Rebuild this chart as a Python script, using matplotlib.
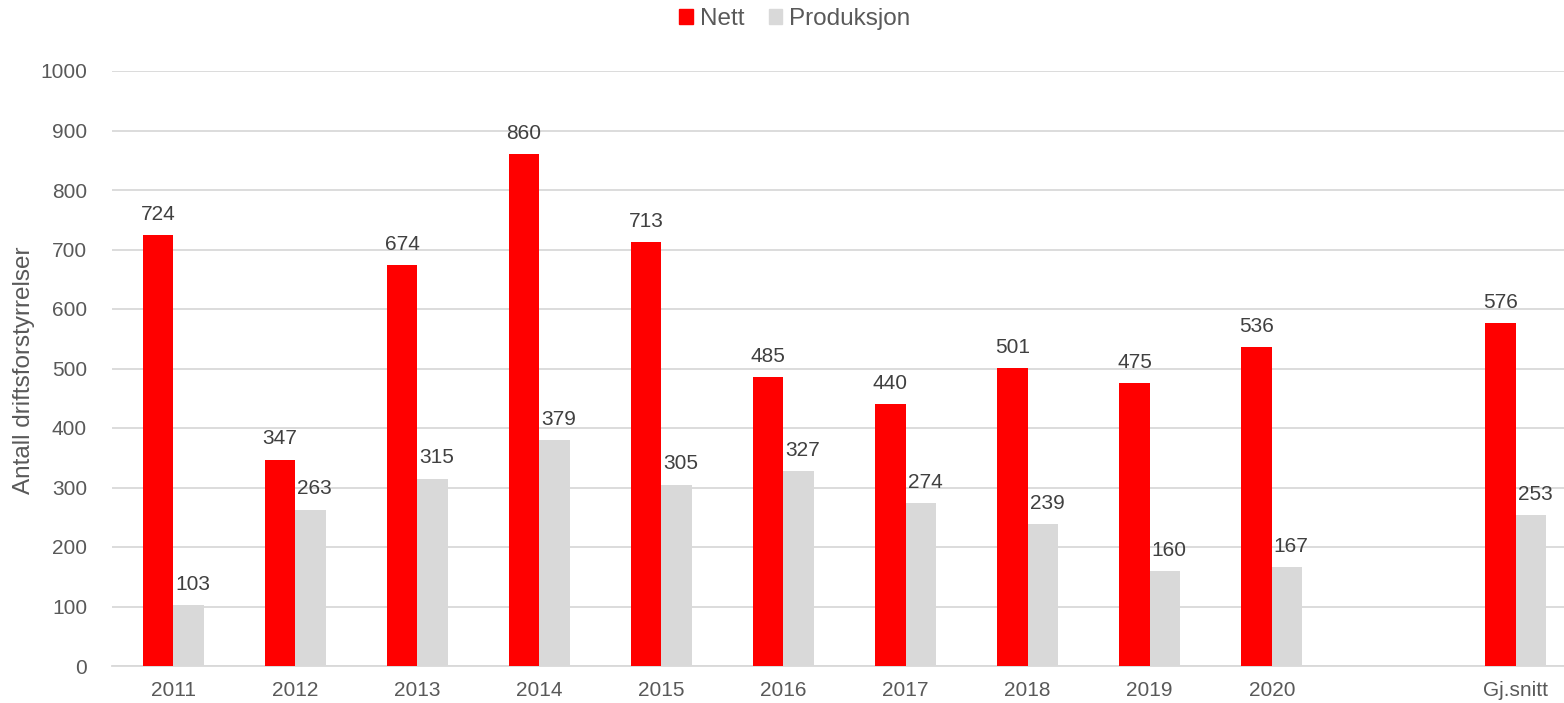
import matplotlib
matplotlib.use("Agg")
import matplotlib.pyplot as plt
import numpy as np
from matplotlib.patches import Patch

categories = ["2011", "2012", "2013", "2014", "2015", "2016", "2017", "2018", "2019", "2020", "", "Gj.snitt"]
nett = [724, 347, 674, 860, 713, 485, 440, 501, 475, 536, None, 576]
produksjon = [103, 263, 315, 379, 305, 327, 274, 239, 160, 167, None, 253]

plt.rcParams['font.family'] = ['Liberation Sans', 'DejaVu Sans']

W, H = 1564, 703
fig = plt.figure(figsize=(W / 100, H / 100), dpi=100)
ax = fig.add_axes([112 / W, 1 - 666 / H, 1465 / W, (666 - 71) / H])

x = np.arange(len(categories))
bw = 0.25
red = "#ff0000"
grey = "#d9d9d9"
txt = "#404040"
fs = 15

for i in range(len(categories)):
    if nett[i] is not None:
        ax.bar(x[i] - bw / 2, nett[i], bw, color=red, zorder=3)
        ax.annotate(str(nett[i]), (x[i] - bw / 2, nett[i]), xytext=(0, 8),
                    textcoords="offset points", ha="center", va="bottom",
                    fontsize=fs, color=txt)
    if produksjon[i] is not None:
        ax.bar(x[i] + bw / 2, produksjon[i], bw, color=grey, zorder=3)
        ax.annotate(str(produksjon[i]), (x[i] + bw / 2, produksjon[i]), xytext=(3, 8),
                    textcoords="offset points", ha="center", va="bottom",
                    fontsize=fs, color=txt)

ax.set_xlim(-0.5, len(categories) - 0.5)
ax.set_ylim(0, 1000)
ax.set_yticks(np.arange(0, 1001, 100))
ax.set_xticks(x)
ax.set_xticklabels(categories)
ax.tick_params(axis="both", length=0, labelsize=fs, labelcolor="#595959")
ax.tick_params(axis="x", pad=11)
ax.tick_params(axis="y", pad=18)
ax.grid(axis="y", color="#d9d9d9", linewidth=1.3, zorder=0)
for s in ["top", "right", "left"]:
    ax.spines[s].set_visible(False)
ax.spines["bottom"].set_color("#d9d9d9")
ax.spines["bottom"].set_linewidth(1.3)

ax.set_ylabel("Antall driftsforstyrrelser", fontsize=17.5, color="#595959")
ax.yaxis.set_label_coords(-0.0525, 0.497)

handles = [Patch(color=red, label="Nett"), Patch(color=grey, label="Produksjon")]
fig.legend(handles=handles, loc="center", bbox_to_anchor=(795 / W, 1 - 19 / H), ncol=2,
           frameon=False, fontsize=17.5, handlelength=0.55, handleheight=0.55,
           handletextpad=0.3, columnspacing=1.0, labelcolor="#595959")

fig.savefig("out.png", dpi=100)
